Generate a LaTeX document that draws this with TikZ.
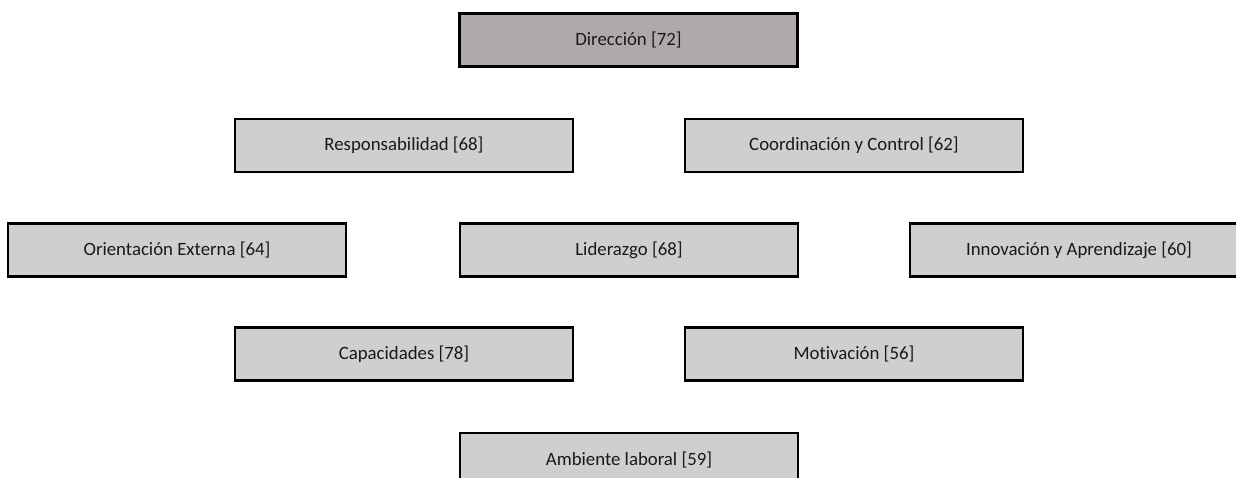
\documentclass[tikz,border=0pt]{standalone}
\usepackage{fontspec}
\setmainfont[Ligatures={NoCommon}]{Carlito}
\definecolor{boxgray}{HTML}{D0CECE}
\definecolor{topgray}{HTML}{AEAAAA}
\begin{document}
\begin{tikzpicture}[x=1pt,y=1pt,
  box/.style={draw=black, line width=2.6pt, fill=boxgray, minimum width=338pt, minimum height=53pt, inner sep=0pt, font=\fontsize{18.8}{22}\selectfont, text=black!90},
  topbox/.style={box, fill=topgray}]
\useasboundingbox (0,0) rectangle (1236,477);
\begin{scope}
\clip (0,0) rectangle (1236,477);
\node[topbox] (dir) at (628.5,437) {Dirección [72]};
\node[box] (resp) at (404,331.5) {Responsabilidad [68]};
\node[box] (coord) at (854,331.5) {Coordinación y Control [62]};
\node[box] (ori) at (177,227) {Orientación Externa [64]};
\node[box] (lid) at (629,227) {Liderazgo [68]};
\node[box] (inno) at (1079,227) {Innovación y Aprendizaje [60]};
\node[box] (cap) at (404,123) {Capacidades [78]};
\node[box] (mot) at (854,123) {Motivación [56]};
\node[box] (amb) at (629,17.5) {Ambiente laboral [59]};
\end{scope}
\end{tikzpicture}
\end{document}
